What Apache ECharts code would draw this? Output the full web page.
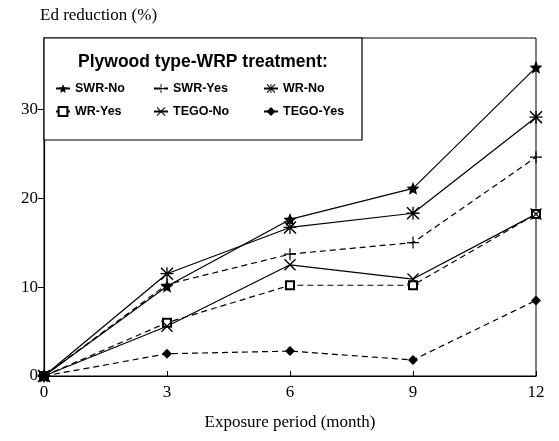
<!DOCTYPE html>
<html>
<head>
<meta charset="utf-8">
<script src="https://cdn.jsdelivr.net/npm/echarts@6/dist/echarts.min.js"></script>
<style>
  html, body { margin: 0; padding: 0; background: #fff; }
  #chart { width: 559px; height: 441px; }
</style>
</head>
<body>
<div id="chart"></div>
<script>
const months = [0, 3, 6, 9, 12]
const xTicks = [0, 3, 6, 9, 12]
const yTicks = [0, 10, 20, 30]

const swrNo = [0, 10.1, 17.6, 21.1, 34.7]
const swrYes = [0, 10.3, 13.7, 15.0, 24.6]
const wrNo = [0, 11.5, 16.7, 18.3, 29.1]
const wrYes = [0, 6.0, 10.2, 10.2, 18.2]
const tegoNo = [0, 5.6, 12.5, 10.9, 18.2]
const tegoYes = [0, 2.5, 2.8, 1.8, 8.5]

const names = ['SWR-No', 'SWR-Yes', 'WR-No', 'WR-Yes', 'TEGO-No', 'TEGO-Yes']

// marker shapes
const STAR = 'path://M0,-1 L0.265,-0.364 L0.951,-0.309 L0.428,0.139 L0.588,0.809 L0,0.45 L-0.588,0.809 L-0.428,0.139 L-0.951,-0.309 L-0.265,-0.364 Z'
const PLUS_D = 'M-0.1,-1 L0.1,-1 L0.1,-0.1 L1,-0.1 L1,0.1 L0.1,0.1 L0.1,1 L-0.1,1 L-0.1,0.1 L-1,0.1 L-1,-0.1 L-0.1,-0.1 Z'
const CROSS_D = 'M-1,-0.84 L-0.84,-1 L1,0.84 L0.84,1 Z M1,-0.84 L-0.84,1 L-1,0.84 L0.84,-1 Z'
const PLUS = 'path://' + PLUS_D
const CROSS = 'path://' + CROSS_D
const ASTER = 'path://' + PLUS_D + ' ' + CROSS_D

const pair = (arr) => months.map((m, i) => [m, arr[i]])

const mkSeries = (name, arr, symbol, size, dashed) => ({
  name,
  type: 'line',
  data: pair(arr),
  symbol,
  symbolSize: size,
  showAllSymbol: true,
  lineStyle: { color: '#000', width: 1.2, type: dashed ? [6, 4] : 'solid' },
  itemStyle: { color: '#000', borderColor: '#000', borderWidth: symbol === 'emptyRect' ? 1.4 : 0 },
  emphasis: { disabled: true },
  z: 3
})

const serif = '"Liberation Serif", "DejaVu Serif", serif'
const sans = '"Liberation Sans", Arial, sans-serif'

// legend columns have different widths, like the original box
const colStyle = { 'SWR-No': 'c1', 'WR-Yes': 'c1', 'SWR-Yes': 'c2', 'TEGO-No': 'c2', 'WR-No': 'c3', 'TEGO-Yes': 'c3' }

const chart = echarts.init(document.getElementById('chart'))
chart.setOption({
  animation: false,
  backgroundColor: '#fff',
  grid: { left: 44, right: 23, top: 38, bottom: 65, show: true, borderColor: '#000', borderWidth: 1 },
  xAxis: {
    type: 'value',
    min: xTicks[0],
    max: xTicks[xTicks.length - 1],
    interval: 3,
    name: 'Exposure period (month)',
    nameLocation: 'middle',
    nameGap: 38,
    nameTextStyle: { fontFamily: serif, fontSize: 17, color: '#000' },
    axisLine: { lineStyle: { color: '#000', width: 1.2 } },
    axisTick: { inside: true, length: 5, lineStyle: { color: '#000' } },
    axisLabel: { fontFamily: serif, fontSize: 17, color: '#000', margin: 8 },
    splitLine: { show: false }
  },
  yAxis: {
    type: 'value',
    min: 0,
    max: 38,
    interval: 10,
    name: 'Ed reduction (%)',
    nameLocation: 'end',
    nameGap: 14,
    nameTextStyle: { fontFamily: serif, fontSize: 17, color: '#000', align: 'left', padding: [0, 0, 0, -4] },
    axisLine: { lineStyle: { color: '#000', width: 1.2 } },
    axisTick: { inside: false, length: 6, customValues: yTicks, lineStyle: { color: '#000' } },
    axisLabel: { fontFamily: serif, fontSize: 17, color: '#000', margin: 6, customValues: yTicks },
    splitLine: { show: false }
  },
  graphic: [
    {
      type: 'rect',
      shape: { x: 44, y: 38, width: 318, height: 102 },
      style: { fill: '#fff', stroke: '#000', lineWidth: 1.2 },
      z: 5
    },
    {
      type: 'text',
      left: 78,
      top: 53,
      style: { text: 'Plywood type-WRP treatment:', font: 'bold 17.5px "Liberation Sans", Arial, sans-serif', fill: '#000' },
      z: 6
    }
  ],
  legend: {
    data: names,
    left: 55,
    top: 79,
    width: 330,
    padding: 0,
    itemWidth: 14,
    itemHeight: 11,
    itemGap: 4,
    z: 7,
    formatter: (n) => '{' + colStyle[n] + '|' + n + '}',
    textStyle: {
      fontFamily: sans, fontWeight: 'bold', fontSize: 12.5, color: '#000', lineHeight: 19,
      rich: {
        c1: { width: 74, fontFamily: sans, fontWeight: 'bold', fontSize: 12.5, lineHeight: 19 },
        c2: { width: 86, fontFamily: sans, fontWeight: 'bold', fontSize: 12.5, lineHeight: 19 },
        c3: { width: 70, fontFamily: sans, fontWeight: 'bold', fontSize: 12.5, lineHeight: 19 }
      }
    }
  },
  series: [
    mkSeries('SWR-No', swrNo, STAR, 13, false),
    mkSeries('SWR-Yes', swrYes, PLUS, 12, true),
    mkSeries('WR-No', wrNo, ASTER, 13, false),
    mkSeries('WR-Yes', wrYes, 'emptyRect', 8, true),
    mkSeries('TEGO-No', tegoNo, CROSS, 12, false),
    mkSeries('TEGO-Yes', tegoYes, 'diamond', 10, true)
  ]
})
</script>
</body>
</html>
